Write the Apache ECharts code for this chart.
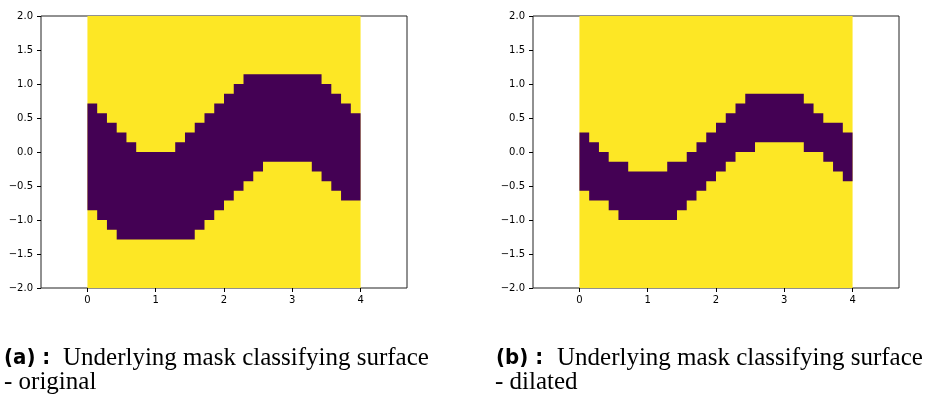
<!DOCTYPE html>
<html lang="en">
<head>
    <meta charset="UTF-8">
    <title>mask surface</title>
    <script src="https://cdn.jsdelivr.net/npm/echarts@6/dist/echarts.min.js"></script>
    <style>
        html, body { margin: 0; padding: 0; background: #fff; }
        #chart { width: 925px; height: 401px; }
    </style>
</head>
<body>
<div id="chart"></div>
<script>
    // image extent of the mask (x0, x1, y0, y1) and its grid size
    var extent = [0, 4, -2, 2];
    var nCols = 28, nRows = 28;

    var xTicks = [0, 1, 2, 3, 4];
    var yTicks = [-2, -1.5, -1, -0.5, 0, 0.5, 1, 1.5, 2];

    // per column: first purple row and first yellow row below it (rows counted from the top)
    var bandTopA    = [9, 10, 11, 12, 13, 14, 14, 14, 14, 13, 12, 11, 10, 9, 8, 7, 6, 6, 6, 6, 6, 6, 6, 6, 7, 8, 9, 10];
    var bandBottomA = [20, 21, 22, 23, 23, 23, 23, 23, 23, 23, 23, 22, 21, 20, 19, 18, 17, 16, 15, 15, 15, 15, 15, 16, 17, 18, 19, 19];
    var bandTopB    = [12, 13, 14, 15, 15, 16, 16, 16, 16, 15, 15, 14, 13, 12, 11, 10, 9, 8, 8, 8, 8, 8, 8, 9, 10, 11, 11, 12];
    var bandBottomB = [18, 19, 19, 20, 21, 21, 21, 21, 21, 21, 20, 19, 18, 17, 16, 15, 14, 14, 13, 13, 13, 13, 13, 14, 14, 15, 16, 17];

    var labelA = '(a) :', captionA = 'Underlying mask classifying surface', subA = '- original';
    var labelB = '(b) :', captionB = 'Underlying mask classifying surface', subB = '- dilated';

    var YELLOW = '#fde725', PURPLE = '#440154';
    var cw = (extent[1] - extent[0]) / nCols;
    var ch = (extent[3] - extent[2]) / nRows;

    function bandData(tops, bottoms) {
        var out = [];
        for (var c = 0; c < tops.length; c++) out.push([c, tops[c], bottoms[c]]);
        return out;
    }

    function renderBackground(params, api) {
        var p0 = api.coord([api.value(0), api.value(3)]);
        var p1 = api.coord([api.value(1), api.value(2)]);
        return {type: 'rect', shape: {x: p0[0], y: p0[1], width: p1[0] - p0[0], height: p1[1] - p0[1]},
            style: {fill: YELLOW, stroke: null}};
    }

    // the purple cells of each column joined into one outline, so no seams show between columns
    function renderBand(params, api) {
        if (params.dataIndexInside !== 0) return null;
        var n = params.dataInsideLength;
        var upper = [], lower = [];
        for (var i = 0; i < n; i++) {
            var c = api.value(0, i);
            var x0 = extent[0] + c * cw, x1 = x0 + cw;
            var yTop = extent[3] - api.value(1, i) * ch;
            var yBot = extent[3] - api.value(2, i) * ch;
            upper.push(api.coord([x0, yTop]), api.coord([x1, yTop]));
            lower.unshift(api.coord([x1, yBot]), api.coord([x0, yBot]));
        }
        return {type: 'polygon', shape: {points: upper.concat(lower)},
            style: {fill: PURPLE, stroke: null}};
    }

    function fmtY(v) {
        return v.toFixed(1).replace('-', '\u2212');
    }

    var tickFont = {fontFamily: 'DejaVu Sans', fontSize: 10, color: '#000'};

    function xAxisFor(i) {
        return {
            gridIndex: i, type: 'value', min: -0.68, max: 4.68,
            axisLine: {show: false, onZero: false},
            axisTick: {show: true, length: 4, customValues: xTicks, lineStyle: {color: '#000'}},
            axisLabel: Object.assign({margin: 7, customValues: xTicks, formatter: function (v) { return String(v); }}, tickFont),
            splitLine: {show: false}
        };
    }

    function yAxisFor(i) {
        return {
            gridIndex: i, type: 'value', min: yTicks[0], max: yTicks[yTicks.length - 1], interval: 0.5,
            axisLine: {show: false, onZero: false},
            axisTick: {show: true, length: 4, lineStyle: {color: '#000'}},
            axisLabel: Object.assign({margin: 8, formatter: fmtY}, tickFont),
            splitLine: {show: false}
        };
    }

    var gridBox = {show: true, borderColor: '#222', borderWidth: 1, backgroundColor: 'transparent'};

    var capFont = '25px "Liberation Serif"';
    var boldFont = 'bold 22px "DejaVu Sans Condensed", "DejaVu Sans"';

    function txt(s, x, y, font) {
        return {type: 'text', x: x, y: y, style: {text: s, font: font, fill: '#000', verticalAlign: 'middle'}};
    }

    var chart = echarts.init(document.getElementById('chart'), null, {renderer: 'canvas'});
    chart.setOption({
        animation: false,
        grid: [
            Object.assign({left: 41, top: 16, width: 366, height: 272}, gridBox),
            Object.assign({left: 533, top: 16, width: 366, height: 272}, gridBox)
        ],
        xAxis: [xAxisFor(0), xAxisFor(1)],
        yAxis: [yAxisFor(0), yAxisFor(1)],
        series: [
            {type: 'custom', xAxisIndex: 0, yAxisIndex: 0, renderItem: renderBackground, data: [extent], z: 1},
            {type: 'custom', xAxisIndex: 0, yAxisIndex: 0, renderItem: renderBand, data: bandData(bandTopA, bandBottomA), z: 2},
            {type: 'custom', xAxisIndex: 1, yAxisIndex: 1, renderItem: renderBackground, data: [extent], z: 1},
            {type: 'custom', xAxisIndex: 1, yAxisIndex: 1, renderItem: renderBand, data: bandData(bandTopB, bandBottomB), z: 2}
        ],
        graphic: [
            txt(labelA, 4, 358, boldFont),
            txt(captionA, 63, 358, capFont),
            txt(subA, 4, 382, capFont),
            txt(labelB, 496, 358, boldFont),
            txt(captionB, 557, 358, capFont),
            txt(subB, 495, 382, capFont)
        ]
    });
</script>
</body>
</html>
